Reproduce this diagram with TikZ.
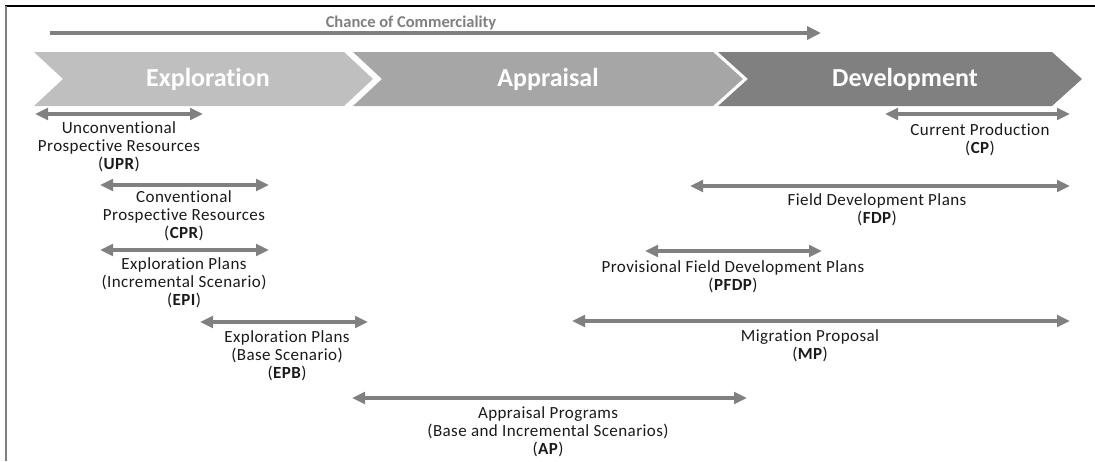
\documentclass[tikz,border=0pt]{standalone}
\usepackage{fontspec}
\setmainfont{Carlito}[Ligatures=NoCommon]
\newfontfamily\spanfont{Carlito}[Ligatures=NoCommon,LetterSpace=2.5]
\usetikzlibrary{arrows.meta}
\definecolor{phaseA}{HTML}{BFBFBF}
\definecolor{phaseB}{HTML}{A6A6A6}
\definecolor{phaseC}{HTML}{808080}
\definecolor{spangray}{HTML}{808080}
\definecolor{spanink}{HTML}{1A1A1A}
\begin{document}
\begin{tikzpicture}[x=1pt,y=-1pt,
  phaselabel/.style={text=white,inner sep=0,font={\fontsize{26}{30}\selectfont\bfseries}},
  spanarrow/.style={draw=spangray,line width=4.3pt,
    {Triangle[length=13pt,width=11.5pt]}-{Triangle[length=13pt,width=11.5pt]}},
  spantext/.style={anchor=north,align=center,inner sep=0,text=spanink,
    font={\spanfont\fontsize{17}{18}\selectfont}},
]
\useasboundingbox (0,0) rectangle (1095,461);

% frame
\draw[black,line width=1.2pt] (5,6) -- (1095,6);
\draw[spangray,line width=2pt] (6,6) -- (6,461);

% chance of commerciality
\coordinate (coc-l) at (50,33);
\coordinate (coc-r) at (821,33);
\draw[spangray,line width=4pt,-{Triangle[length=14pt,width=13pt]}] (coc-l) -- (coc-r);
\node[text=spangray,inner sep=0,font={\fontsize{16.5}{20}\selectfont\bfseries}] (coc) at (411,23) {Chance of Commerciality};

% phase chevrons
\fill[phaseA] (34,52) -- (344,52) -- (373,79) -- (344,106) -- (34,106) -- (63,79) -- cycle;
\fill[phaseB] (353,52) -- (713,52) -- (743,79) -- (713,106) -- (353,106) -- (382,79) -- cycle;
\fill[phaseC] (718,52) -- (1052,52) -- (1082,79) -- (1052,106) -- (718,106) -- (748,79) -- cycle;
\node[phaselabel] (expl) at (208,79) {Exploration};
\node[phaselabel] (appr) at (548,79) {Appraisal};
\node[phaselabel] (devl) at (905,79) {Development};

% resource classes
\coordinate (upr-l) at (35,114);  \coordinate (upr-r) at (203,114);
\draw[spanarrow] (upr-l) -- (upr-r);
\node[spantext] (upr) at (119,121) {\strut Unconventional\\Prospective Resources\\(\textbf{UPR})};

\coordinate (cpr-l) at (100,185); \coordinate (cpr-r) at (269,185);
\draw[spanarrow] (cpr-l) -- (cpr-r);
\node[spantext] (cpr) at (184,190) {\strut Conventional\\Prospective Resources\\(\textbf{CPR})};

\coordinate (epi-l) at (100,250); \coordinate (epi-r) at (269,250);
\draw[spanarrow] (epi-l) -- (epi-r);
\node[spantext] (epi) at (184,257) {\strut Exploration Plans\\(Incremental Scenario)\\(\textbf{EPI})};

\coordinate (epb-l) at (200,322); \coordinate (epb-r) at (368,322);
\draw[spanarrow] (epb-l) -- (epb-r);
\node[spantext] (epb) at (287,330) {\strut Exploration Plans\\(Base Scenario)\\(\textbf{EPB})};

\coordinate (ap-l) at (352,398);  \coordinate (ap-r) at (747,398);
\draw[spanarrow] (ap-l) -- (ap-r);
\node[spantext] (ap) at (548,406) {\strut Appraisal Programs\\(Base and Incremental Scenarios)\\(\textbf{AP})};

\coordinate (cp-l) at (885,114);  \coordinate (cp-r) at (1070,114);
\draw[spanarrow] (cp-l) -- (cp-r);
\node[spantext] (cp) at (980,123) {\strut Current Production\\(\textbf{CP})};

\coordinate (fdp-l) at (690,186); \coordinate (fdp-r) at (1070,186);
\draw[spanarrow] (fdp-l) -- (fdp-r);
\node[spantext] (fdp) at (877,193) {\strut Field Development Plans\\(\textbf{FDP})};

\coordinate (pfdp-l) at (645,251); \coordinate (pfdp-r) at (822,251);
\draw[spanarrow] (pfdp-l) -- (pfdp-r);
\node[spantext] (pfdp) at (733,260) {\strut Provisional Field Development Plans\\(\textbf{PFDP})};

\coordinate (mp-l) at (572,321); \coordinate (mp-r) at (1070,321);
\draw[spanarrow] (mp-l) -- (mp-r);
\node[spantext] (mp) at (810,329) {\strut Migration Proposal\\(\textbf{MP})};
\end{tikzpicture}
\end{document}
